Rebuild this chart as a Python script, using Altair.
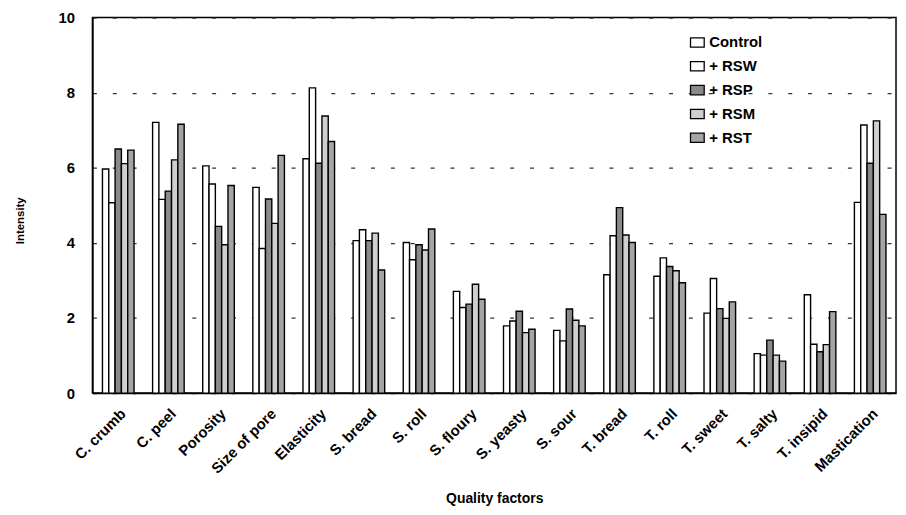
import altair as alt
import pandas as pd

categories = ["C. crumb", "C. peel", "Porosity", "Size of pore", "Elasticity",
              "S. bread", "S. roll", "S. floury", "S. yeasty", "S. sour",
              "T. bread", "T. roll", "T. sweet", "T. salty", "T. insipid", "Mastication"]
series = ["Control", "+ RSW", "+ RSP", "+ RSM", "+ RST"]

control = [5.97, 7.21, 6.05, 5.48, 6.24, 4.06, 4.01, 2.71, 1.79, 1.67, 3.15, 3.11, 2.13, 1.05, 2.62, 5.08]
rsw = [5.07, 5.16, 5.57, 3.85, 8.13, 4.35, 3.55, 2.28, 1.92, 1.39, 4.19, 3.60, 3.05, 1.01, 1.30, 7.14]
rsp = [6.50, 5.38, 4.44, 5.17, 6.12, 4.06, 3.95, 2.37, 2.18, 2.24, 4.94, 3.37, 2.25, 1.41, 1.10, 6.12]
rsm = [6.11, 6.21, 3.95, 4.52, 7.38, 4.26, 3.81, 2.90, 1.61, 1.94, 4.21, 3.26, 1.99, 1.01, 1.29, 7.25]
rst = [6.47, 7.16, 5.53, 6.33, 6.70, 3.28, 4.37, 2.50, 1.70, 1.79, 4.01, 2.94, 2.43, 0.85, 2.17, 4.76]

fills = ["#ffffff", "#ffffff", "#8a8a8a", "#cfcfcf", "#a4a4a4"]

rows = []
for name, vals in zip(series, [control, rsw, rsp, rsm, rst]):
    for c, v in zip(categories, vals):
        rows.append({"factor": c, "group": name, "value": v})
df = pd.DataFrame(rows)

FONT = "Liberation Sans"

chart = alt.Chart(df).mark_bar(stroke="black", strokeWidth=1.4).encode(
    x=alt.X("factor:N", sort=categories,
            scale=alt.Scale(paddingInner=0.37, paddingOuter=0.2),
            axis=alt.Axis(title="Quality factors", labelAngle=-45, labelAlign="right",
                          labelBaseline="top", labelPadding=13, ticks=False,
                          domainColor="black", domainWidth=1.5,
                          labelFont=FONT, labelFontSize=15, labelFontWeight="bold",
                          labelColor="black",
                          titleFont=FONT, titleFontSize=14, titleFontWeight="bold",
                          titleColor="black", titleBaseline="alphabetic", titleY=110)),
    xOffset=alt.XOffset("group:N", sort=series, scale=alt.Scale(paddingInner=0, paddingOuter=0)),
    y=alt.Y("value:Q", scale=alt.Scale(domain=[0, 10]),
            axis=alt.Axis(title="Intensity", values=[0, 2, 4, 6, 8, 10], ticks=False,
                          labelPadding=18, grid=True, gridDash=[4, 16], gridColor="#333333",
                          gridWidth=1.2, domainColor="black", domainWidth=1.5,
                          labelFont=FONT, labelFontSize=15, labelFontWeight="bold",
                          labelColor="black",
                          titleFont=FONT, titleFontSize=11.5, titleFontWeight="bold",
                          titleColor="black", titleX=-67, titleY=204)),
    fill=alt.Fill("group:N", sort=series,
                  scale=alt.Scale(domain=series, range=fills),
                  legend=alt.Legend(title=None, orient="none", legendX=601, legendY=17,
                                    symbolType="M-1,-0.68L1,-0.68L1,0.68L-1,0.68Z",
                                    symbolSize=190, symbolStrokeColor="black",
                                    symbolStrokeWidth=1.3, rowPadding=8, labelOffset=4,
                                    labelFont=FONT, labelFontSize=15,
                                    labelFontWeight="bold", labelColor="black")),
).properties(
    width=809, height=378,
    autosize=alt.AutoSizeParams(type="none"),
    padding={"left": 85, "top": 8, "right": 2, "bottom": 113},
).configure_view(stroke="black", strokeWidth=1.5)

chart.save("out.html", embed_options={"renderer": "svg", "actions": False})
